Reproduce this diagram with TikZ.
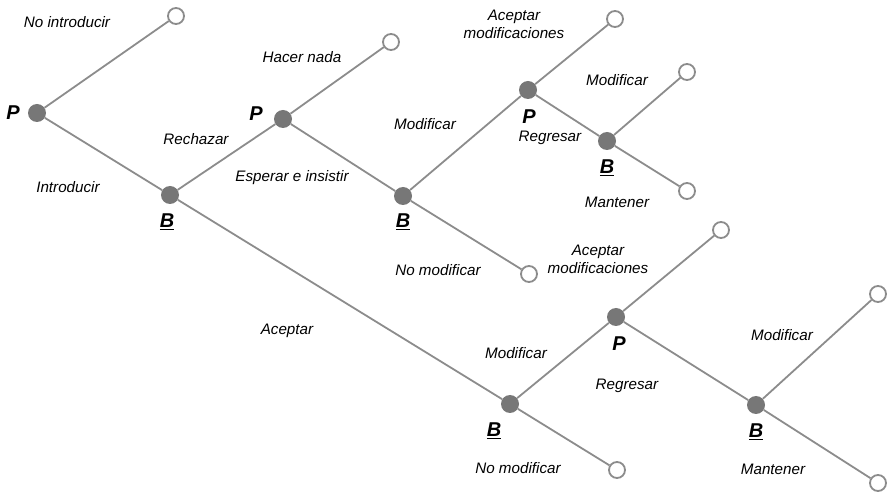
\documentclass[tikz,border=0pt]{standalone}
\usepackage{fontspec}
\setmainfont{Liberation Sans}
\definecolor{edgegray}{HTML}{8C8C8C}
\definecolor{dotgray}{HTML}{777777}
\begin{document}
\begin{tikzpicture}[x=1pt,y=-1pt,
  dec/.style={circle,fill=dotgray,draw=none,minimum size=18pt,inner sep=0pt},
  term/.style={circle,fill=white,draw=edgegray,line width=1.8pt,minimum size=16pt,inner sep=0pt},
  edge/.style={draw=edgegray,line width=1.8pt},
  lab/.style={font=\fontsize{15.2}{18}\selectfont\itshape,align=center,inner sep=0pt},
  pl/.style={font=\fontsize{20}{22}\selectfont\bfseries\itshape,inner sep=0pt}]
\useasboundingbox (0,0) rectangle (887,494);
% decision nodes
\node[dec] (p1) at (37,113) {};
\node[dec] (b1) at (170,195) {};
\node[dec] (p2) at (283,119) {};
\node[dec] (b2) at (403,196) {};
\node[dec] (p3) at (528,90) {};
\node[dec] (b3) at (607,141) {};
\node[dec] (b4) at (510,404) {};
\node[dec] (p4) at (616,317) {};
\node[dec] (b5) at (756,405) {};
% terminal nodes
\node[term] (t1) at (176,16) {};
\node[term] (t2) at (391,42) {};
\node[term] (t3) at (615,19) {};
\node[term] (t4) at (687,72) {};
\node[term] (t5) at (687,191) {};
\node[term] (t6) at (529,274) {};
\node[term] (t7) at (721,230) {};
\node[term] (t8) at (878,294) {};
\node[term] (t9) at (878,483) {};
\node[term] (t10) at (617,470) {};
% edges
\draw[edge] (p1) -- (t1);
\draw[edge] (p1) -- (b1);
\draw[edge] (b1) -- (p2);
\draw[edge] (p2) -- (t2);
\draw[edge] (p2) -- (b2);
\draw[edge] (b2) -- (p3);
\draw[edge] (p3) -- (t3);
\draw[edge] (p3) -- (b3);
\draw[edge] (b3) -- (t4);
\draw[edge] (b3) -- (t5);
\draw[edge] (b2) -- (t6);
\draw[edge] (b1) -- (b4);
\draw[edge] (b4) -- (p4);
\draw[edge] (p4) -- (t7);
\draw[edge] (p4) -- (b5);
\draw[edge] (b5) -- (t8);
\draw[edge] (b5) -- (t9);
\draw[edge] (b4) -- (t10);
% player labels
\node[pl] (lp1) at (13,113) {P};
\node[pl] (lb1) at (167,222) {\underline{B}};
\node[pl] (lp2) at (256,114) {P};
\node[pl] (lb2) at (403,222) {\underline{B}};
\node[pl] (lp3) at (529,117) {P};
\node[pl] (lb3) at (607,168) {\underline{B}};
\node[pl] (lb4) at (494,431) {\underline{B}};
\node[pl] (lp4) at (619,344) {P};
\node[pl] (lb5) at (756,432) {\underline{B}};
% action labels
\node[lab] (a1) at (67,22) {No introducir};
\node[lab] (a2) at (68,187) {Introducir};
\node[lab] (a3) at (196,139) {Rechazar};
\node[lab] (a4) at (302,57) {Hacer nada};
\node[lab] (a5) at (292,178) {Esperar e insistir};
\node[lab] (a6) at (425,124) {Modificar};
\node[lab] (a7) at (438,270) {No modificar};
\node[lab] (a8) at (514,24) {Aceptar\\modificaciones};
\node[lab] (a9) at (550,138) {Regresar};
\node[lab] (a10) at (617,80) {Modificar};
\node[lab] (a11) at (617,202) {Mantener};
\node[lab] (a12) at (287,331) {Aceptar};
\node[lab] (a13) at (516,353) {Modificar};
\node[lab] (a14) at (598,259) {Aceptar\\modificaciones};
\node[lab] (a15) at (627,386) {Regresar};
\node[lab] (a16) at (518,468) {No modificar};
\node[lab] (a17) at (782,335) {Modificar};
\node[lab] (a18) at (773,469) {Mantener};
\end{tikzpicture}
\end{document}
